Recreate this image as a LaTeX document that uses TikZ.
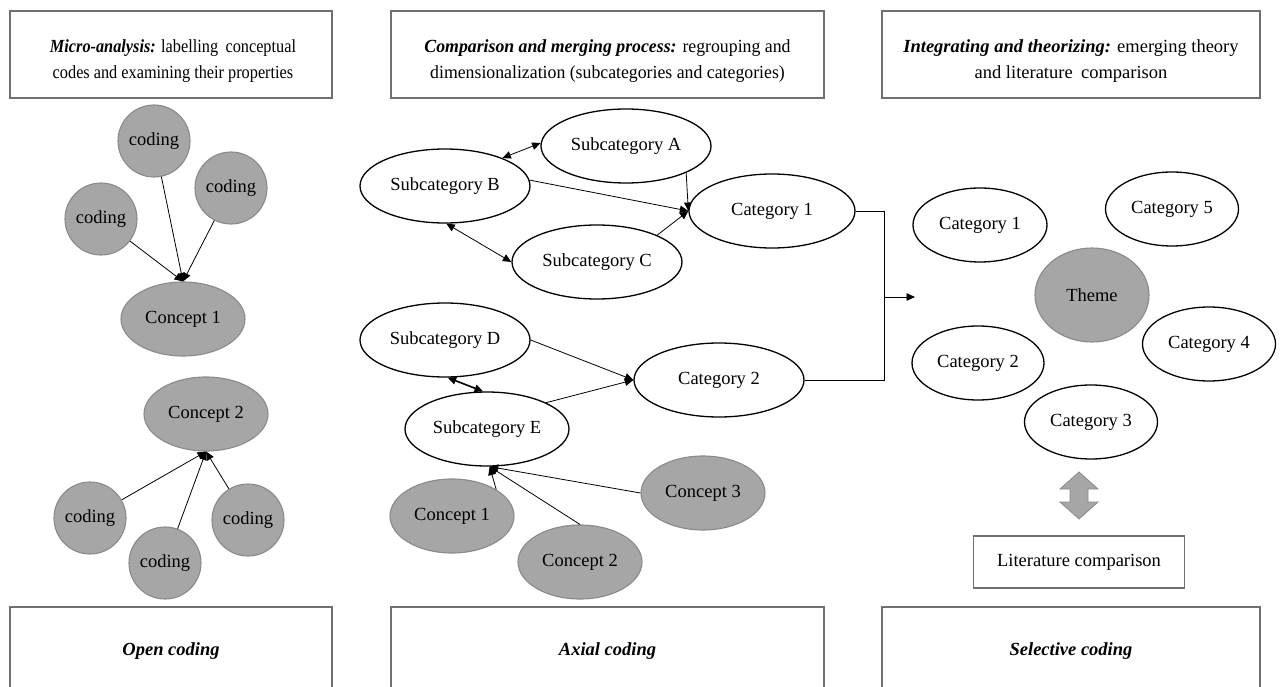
\documentclass[tikz,border=0pt]{standalone}
\usepackage{fontspec}
\setmainfont{Liberation Serif}
\usepackage{graphicx}
\usetikzlibrary{arrows.meta,shapes.geometric}
\definecolor{nodegray}{HTML}{A6A6A6}
\definecolor{nodeedge}{HTML}{8A8A8A}
\definecolor{boxedge}{HTML}{707070}
\begin{document}
\begin{tikzpicture}[x=1pt,y=-1pt,
  every node/.style={font=\fontsize{18.5}{22}\selectfont},
  wov/.style={ellipse, draw=black, line width=1.3pt, fill=white, minimum width=170, minimum height=74, inner sep=0},
  gov/.style={ellipse, draw=nodeedge, line width=1.1pt, fill=nodegray, minimum width=124, minimum height=74, inner sep=0},
  gcirc/.style={circle, draw=nodeedge, line width=1.1pt, fill=nodegray, minimum size=72, inner sep=0},
  hbox/.style={rectangle, draw=boxedge, line width=1.2pt, fill=white, inner sep=0, align=center},
  htext/.style={inner sep=0, align=center, font=\fontsize{18.5}{26}\selectfont},
  con/.style={line width=0.8pt, -{Triangle[length=8.5pt,width=7.5pt]}},
  dcon/.style={line width=0.8pt, {Triangle[length=8.5pt,width=7.5pt]}-{Triangle[length=8.5pt,width=7.5pt]}},
  plainline/.style={line width=0.8pt},
  bigarrow/.style={draw=nodeedge, fill=nodegray, line width=0.8pt, line join=miter},
]
\useasboundingbox (0,0) rectangle (1282,687);

% header boxes
\node[hbox, minimum width=322, minimum height=87] (h1) at (171,54.5) {};
\node[htext] (h1t) at (173,61)
  {\scalebox{0.88}[1]{\textbf{\textit{Micro-analysis:}} labelling\hspace{0.45em}conceptual}\\
   \scalebox{0.88}[1]{codes and examining their properties}};
\node[hbox, minimum width=433, minimum height=87] (h2) at (607.5,54.5) {};
\node[htext] (h2t) at (607.5,61)
  {\scalebox{0.96}[1]{\textbf{\textit{Comparison and merging process:}} regrouping and}\\
   \scalebox{0.96}[1]{dimensionalization (subcategories and categories)}};
\node[hbox, minimum width=378, minimum height=87] (h3) at (1071,54.5) {};
\node[htext] (h3t) at (1071,61)
  {\textbf{\textit{Integrating and theorizing:}} emerging theory\\
   and literature\hspace{0.45em}comparison};

% footer boxes
\node[hbox, minimum width=322, minimum height=88] (b1) at (171,651) {\textbf{\textit{Open coding}}};
\node[hbox, minimum width=433, minimum height=88] (b2) at (607.5,651) {\textbf{\textit{Axial coding}}};
\node[hbox, minimum width=378, minimum height=88] (b3) at (1071,651) {\textbf{\textit{Selective coding}}};

% open coding column
\node[gcirc] (k1) at (154,141) {coding};
\node[gcirc] (k2) at (231,188) {coding};
\node[gcirc] (k3) at (101,219) {coding};
\node[gov] (oc1) at (183,319) {Concept 1};
\node[gov] (oc2) at (206,414) {Concept 2};
\node[gcirc] (k4) at (90,518) {coding};
\node[gcirc] (k5) at (165,563) {coding};
\node[gcirc] (k6) at (248,520) {coding};

\draw[con] (k3) -- (oc1.north);
\draw[con] (k1) -- (oc1.north);
\draw[con] (k2) -- (oc1.north);
\draw[con] (k4) -- (oc2.south);
\draw[con] (k5) -- (oc2.south);
\draw[con] (k6) -- (oc2.south);

% axial coding column
\node[wov] (sa) at (626,146) {Subcategory A};
\node[wov] (sb) at (445,186) {Subcategory B};
\node[wov, minimum width=166] (ca1) at (772,211) {Category 1};
\node[wov] (sc) at (597,262) {Subcategory C};
\node[wov] (sd) at (445,340) {Subcategory D};
\node[wov] (ca2) at (719,380) {Category 2};
\node[wov, minimum width=164] (se) at (487,429) {Subcategory E};
\node[gov] (mc1) at (452,516) {Concept 1};
\node[gov] (mc2) at (580,562) {Concept 2};
\node[gov] (mc3) at (703,493) {Concept 3};

\draw[dcon] (sb.26) -- (sa.178);
\draw[con] (sb.4) -- (ca1.west);
\draw[con] (sa.-24) -- (ca1.west);
\draw[con] (sc.24) -- (ca1.west);
\draw[dcon] (sb.-88) -- (sc.west);
\draw[con] (sd.east) -- (ca2.west);
\draw[con] (se.24) -- (ca2.west);
\draw[dcon, line width=1.6pt] (sd.-86) -- (se.96);
\draw[con] (mc1.31) -- (se.-86);
\draw[con] (mc2.north) -- (se.-86);
\draw[con] (mc3.west) -- (se.-86);

% joining to selective coding
\coordinate (j) at (884,297);
\coordinate (jt) at (915,297);
\draw[plainline] (ca1.east) -| (j) |- (ca2.east);
\draw[con] (j) -- (jt);

% selective coding column
\node[wov, minimum width=134] (r1) at (980,225) {Category 1};
\node[wov, minimum width=133] (r5) at (1172,209) {Category 5};
\node[gov, minimum width=114, minimum height=94] (th) at (1092,295) {Theme};
\node[wov, minimum width=133] (r4) at (1209,344) {Category 4};
\node[wov, minimum width=132] (r2) at (978,363) {Category 2};
\node[wov, minimum width=133] (r3) at (1091,422) {Category 3};
\node[hbox, minimum width=211, minimum height=52] (lit) at (1079,562) {Literature comparison};

\draw[bigarrow] (1079,472) -- (1098,489) -- (1088,489) -- (1088,502) -- (1098,502)
  -- (1079,519) -- (1060,502) -- (1070,502) -- (1070,489) -- (1060,489) -- cycle;
\end{tikzpicture}
\end{document}
